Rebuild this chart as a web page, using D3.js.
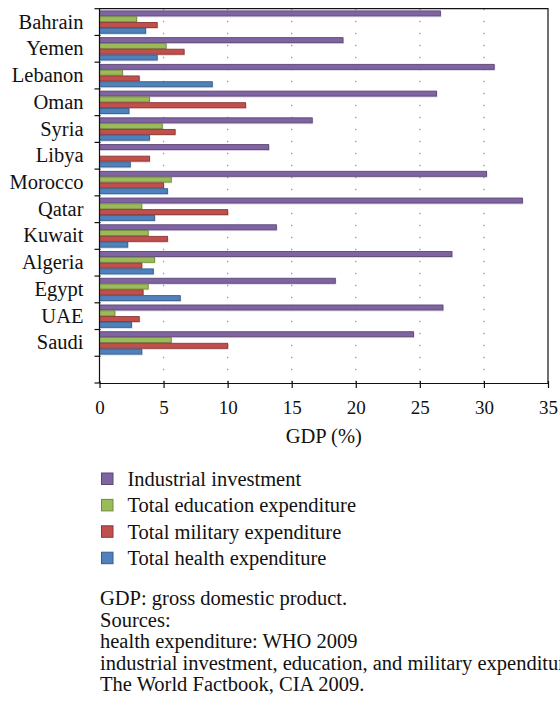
<!DOCTYPE html>
<html>
<head>
<meta charset="utf-8">
<script src="https://cdn.jsdelivr.net/npm/d3@7"></script>
<style>
  body { margin: 0; background: #fff; }
  svg text { font-family: "Liberation Serif", "DejaVu Serif", serif; fill: #111; }
</style>
</head>
<body>
<div id="chart"></div>
<script>
// data (% of GDP)
const countries = ["Bahrain", "Yemen", "Lebanon", "Oman", "Syria", "Libya", "Morocco",
                   "Qatar", "Kuwait", "Algeria", "Egypt", "UAE", "Saudi"];
const industrial = [26.6, 19.0, 30.8, 26.3, 16.6, 13.2, 30.2, 33.0, 13.8, 27.5, 18.4, 26.8, 24.5];
const education  = [2.9, 5.2, 1.8, 3.9, 4.9, null, 5.6, 3.3, 3.8, 4.3, 3.8, 1.2, 5.6];
const military   = [4.5, 6.6, 3.1, 11.4, 5.9, 3.9, 5.0, 10.0, 5.3, 3.3, 3.4, 3.1, 10.0];
const health     = [3.6, 4.5, 8.8, 2.3, 3.9, 2.4, 5.3, 4.3, 2.2, 4.2, 6.3, 2.5, 3.3];
const xTicks = [0, 5, 10, 15, 20, 25, 30, 35];
const seriesNames = ["Industrial investment", "Total education expenditure",
                     "Total military expenditure", "Total health expenditure"];
const notes = ["GDP: gross domestic product.",
               "Sources:",
               "health expenditure: WHO 2009",
               "industrial investment, education, and military expenditure:",
               "The World Factbook, CIA 2009."];

const chart = {
  width : 560,
  height : 709,
  plot : {left: 99.5, right: 548, top: 8.7, bottom: 383},
  fills   : ["#8064A2", "#9BBB59", "#C0504D", "#4F81BD"],
  strokes : ["#5C4776", "#71893F", "#8C3836", "#385D8A"],

  draw : () => {
    const {plot, fills, strokes} = chart;
    const series = [industrial, education, military, health];

    const svg = d3.select("#chart").append("svg")
      .attr("width", chart.width)
      .attr("height", chart.height);

    const x = d3.scaleLinear().domain([0, 35]).range([plot.left, plot.right]);

    // one empty slot under Saudi, as in the original
    const y = d3.scaleBand()
      .domain(countries.concat(["_blank"]))
      .range([plot.top, plot.bottom])
      .paddingInner(0).paddingOuter(0);

    const inner = d3.scaleBand()
      .domain(d3.range(4))
      .range([0, y.bandwidth()])
      .paddingOuter(0.31).paddingInner(0);

    // dotted grid lines
    svg.append("g")
      .selectAll("line")
      .data(xTicks.slice(1, -1))
      .join("line")
        .attr("x1", d => x(d)).attr("x2", d => x(d))
        .attr("y1", plot.top).attr("y2", plot.bottom)
        .attr("stroke", "#9a9a9a")
        .attr("stroke-width", 1.3)
        .attr("stroke-dasharray", "1.5,10.5");

    // bars
    series.forEach((vals, s) => {
      const g = svg.append("g");
      const rows = vals.map((v, i) => ({c: countries[i], v: v})).filter(d => d.v != null);
      // soft shadow
      g.selectAll("rect.shadow")
        .data(rows)
        .join("rect")
          .attr("class", "shadow")
          .attr("x", x(0) + 1)
          .attr("y", d => y(d.c) + inner(s) + 1)
          .attr("width", d => x(d.v) - x(0))
          .attr("height", inner.bandwidth())
          .attr("fill", fills[s])
          .attr("opacity", 0.3);
      g.selectAll("rect.bar")
        .data(rows)
        .join("rect")
          .attr("class", "bar")
          .attr("x", x(0))
          .attr("y", d => y(d.c) + inner(s) + 0.4)
          .attr("width", d => x(d.v) - x(0))
          .attr("height", inner.bandwidth() - 0.8)
          .attr("fill", fills[s])
          .attr("stroke", strokes[s])
          .attr("stroke-width", 0.9);
    });

    // frame top and right
    svg.append("path")
      .attr("d", `M${plot.left},${plot.top}H${plot.right}V${plot.bottom}`)
      .attr("fill", "none").attr("stroke", "#111").attr("stroke-width", 1.2);

    // x axis
    const xAxis = d3.axisBottom(x).tickValues(xTicks).tickSize(5).tickSizeOuter(0);
    const gx = svg.append("g")
      .attr("transform", `translate(0,${plot.bottom})`)
      .call(xAxis);
    gx.select(".domain").attr("stroke", "#111").attr("stroke-width", 1.2);
    gx.selectAll(".tick line").attr("stroke", "#111").attr("stroke-width", 1.2).attr("y1", -2);
    gx.selectAll(".tick text")
      .attr("y", 18).attr("dy", "0.71em")
      .style("font-size", "19px")
      .style("font-family", "Liberation Serif, serif");

    svg.append("text")
      .attr("x", (plot.left + plot.right) / 2)
      .attr("y", 443)
      .attr("text-anchor", "middle")
      .style("font-size", "20.5px")
      .text("GDP (%)");

    // y axis: ticks sit on the category boundaries
    const yBounds = y.domain().map(d => y(d)).concat([plot.bottom]);
    svg.append("line")
      .attr("x1", plot.left).attr("x2", plot.left)
      .attr("y1", plot.top).attr("y2", plot.bottom)
      .attr("stroke", "#111").attr("stroke-width", 1.2);
    svg.append("g")
      .selectAll("line")
      .data(yBounds)
      .join("line")
        .attr("x1", plot.left - 5).attr("x2", plot.left + 1)
        .attr("y1", d => d).attr("y2", d => d)
        .attr("stroke", "#111").attr("stroke-width", 1.2);

    svg.append("g")
      .selectAll("text")
      .data(countries)
      .join("text")
        .attr("x", 83.5)
        .attr("y", d => y(d) + y.bandwidth() / 2 + 6.5)
        .attr("text-anchor", "end")
        .style("font-size", "20.5px")
        .text(d => d);

    // legend
    const legend = svg.append("g");
    seriesNames.forEach((name, i) => {
      const cy = 479 + i * 26.4;
      legend.append("rect")
        .attr("x", 101.5).attr("y", cy - 6)
        .attr("width", 11.5).attr("height", 11.5)
        .attr("fill", fills[i])
        .attr("stroke", strokes[i]).attr("stroke-width", 1);
      legend.append("text")
        .attr("x", 127.5).attr("y", cy + 7)
        .style("font-size", "20.5px")
        .text(name);
    });

    // footnotes
    svg.append("g")
      .selectAll("text")
      .data(notes)
      .join("text")
        .attr("x", 100)
        .attr("y", (d, i) => 605 + i * 21.6)
        .style("font-size", "20.5px")
        .text(d => d);
  }
};

document.addEventListener("DOMContentLoaded", chart.draw);
</script>
</body>
</html>
